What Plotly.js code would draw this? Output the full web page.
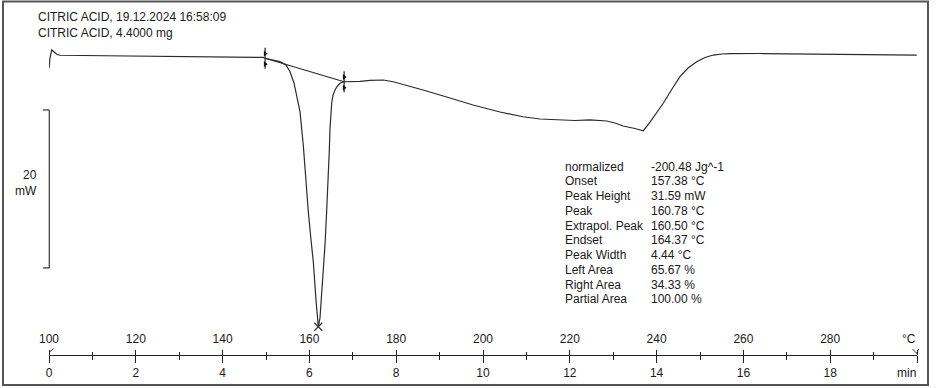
<!DOCTYPE html>
<html>
<head>
<meta charset="utf-8">
<script src="https://cdn.plot.ly/plotly-3.0.1.min.js"></script>
<style>
  html, body { margin: 0; padding: 0; background: #fff; }
  #chart { width: 937px; height: 388px; }
</style>
</head>
<body>
<div id="chart"></div>
<script>
// ---------- DATA ----------
const titleLines = ["CITRIC ACID, 19.12.2024 16:58:09", "CITRIC ACID, 4.4000 mg"];

// DSC curve: temperature (°C) and heat flow (mW, relative, endo down)
const tempC = [
  100.0, 100.23, 100.62, 101.15, 101.84, 102.53, 107.14, 116.36, 125.58, 134.79,
  144.01, 149.31, 149.77, 151.38, 153.23, 154.61, 155.53, 156.45, 157.07, 157.83,
  158.59, 159.17, 159.75, 160.37, 160.90, 161.52, 162.05, 162.44, 162.83, 163.25,
  163.59, 163.99, 164.36, 164.59, 164.75, 165.14, 165.44, 165.90, 166.47, 167.05,
  167.97, 169.35, 171.66, 173.96, 177.03, 179.33, 183.18, 186.18, 192.40, 197.70,
  203.92, 209.22, 213.13, 216.98, 221.20, 224.65, 228.50, 230.41, 232.26, 235.02,
  236.94, 238.48, 239.86, 241.54, 243.55, 245.39, 247.24, 249.24, 251.15, 253.07,
  255.07, 256.91, 263.82, 273.04, 284.56, 296.08, 299.93
];
const heatFlow = [
  -1.43, -0.13, 0.89, 0.63, 0.32, 0.22, 0.19, 0.15, 0.10, 0.06,
  0.00, -0.06, -0.16, -0.32, -0.59, -1.01, -1.86, -3.29, -4.81, -6.92,
  -11.14, -15.57, -19.58, -23.16, -25.91, -30.76, -34.14, -33.04, -30.13, -26.96,
  -23.80, -19.37, -15.32, -11.77, -8.99, -5.82, -4.81, -4.18, -3.67, -3.33,
  -3.13, -3.13, -3.08, -2.97, -2.91, -3.13, -3.67, -4.18, -5.19, -6.08,
  -6.96, -7.56, -7.85, -7.97, -8.04, -7.97, -8.10, -8.35, -8.73, -9.05,
  -9.33, -8.23, -7.22, -5.86, -4.05, -2.49, -1.39, -0.59, -0.06, 0.25,
  0.38, 0.42, 0.44, 0.38, 0.32, 0.25, 0.25
];

// Integration baseline (onset marker -> endset marker)
const baselineT = [149.8, 168.0];
const baselineV = [-0.16, -3.13];

// Axis ticks
const tempTicks = [100, 120, 140, 160, 180, 200, 220, 240, 260, 280, 300];
const tempTickText = ["100", "120", "140", "160", "180", "200", "220", "240", "260", "280", ""];
const tempUnit = "°C";
const tempMinor = [110, 130, 150, 170, 190, 210, 230, 250, 270, 290];
const timeTicks = [0, 2, 4, 6, 8, 10, 12, 14, 16, 18, 20];
const timeTickText = ["0", "2", "4", "6", "8", "10", "12", "14", "16", "18", ""];
const timeUnit = "min";
const timeMinor = [1, 3, 5, 7, 9, 11, 13, 15, 17, 19];

// Scale bar
const scaleBarMW = 20;
const scaleBarTop = -6.7;
const scaleLabel = ["20", "mW"];

// Evaluation results
const resultLabels = ["normalized", "Onset", "Peak Height", "Peak", "Extrapol. Peak",
  "Endset", "Peak Width", "Left Area", "Right Area", "Partial Area"];
const resultValues = ["-200.48 Jg^-1", "157.38 °C", "31.59 mW", "160.78 °C", "160.50 °C",
  "164.37 °C", "4.44 °C", "65.67 %", "34.33 %", "100.00 %"];

// ---------- LAYOUT HELPERS ----------
const W = 937, H = 388;
const M = { l: 49, r: 20, t: 20, b: 33 };
const PW = W - M.l - M.r, PH = H - M.t - M.b;
const px = x => (x - M.l) / PW;          // pixel -> paper x
const py = y => (H - M.b - y) / PH;       // pixel -> paper y
const INK = "#1a1a1a";
const FONT = "Liberation Sans, Arial, sans-serif";
const PX_PER_MW = 7.9, ZERO_PX = 57;

// peak (minimum) from data
let iMin = 0;
heatFlow.forEach((v, i) => { if (v < heatFlow[iMin]) iMin = i; });

const traces = [
  { x: tempC, y: heatFlow, type: "scatter", mode: "lines",
    line: { color: "#2b2b2b", width: 1.2 }, hoverinfo: "skip" },
  { x: baselineT, y: baselineV, type: "scatter", mode: "lines",
    line: { color: "#2b2b2b", width: 1.2 }, hoverinfo: "skip" },
  { x: baselineT, y: baselineV, type: "scatter", mode: "markers",
    marker: { symbol: "line-ns-open", size: 15, color: "#222", line: { color: "#222", width: 1.2 } }, hoverinfo: "skip" },
  { x: baselineT.concat(baselineT), y: baselineV.map(v => v + 0.6).concat(baselineV.map(v => v - 0.75)),
    type: "scatter", mode: "markers",
    marker: { symbol: "triangle-right", size: 5, color: "#111", line: { width: 0 } }, hoverinfo: "skip" },
  { x: [tempC[iMin]], y: [heatFlow[iMin]], type: "scatter", mode: "markers",
    marker: { symbol: "x-thin-open", size: 8, color: "#333", line: { color: "#333", width: 1.2 } }, hoverinfo: "skip" },
  { x: [timeTicks[0], timeTicks[timeTicks.length - 1]], y: [null, null], xaxis: "x2", yaxis: "y",
    type: "scatter", mode: "lines", hoverinfo: "skip", showlegend: false }
];

const txt = (text, x, y, xanchor, size) => ({
  text: text, xref: "paper", yref: "paper", x: x, y: y,
  xanchor: xanchor, yanchor: "middle", showarrow: false,
  font: { size: size || 12, color: INK, family: FONT }
});

const annotations = [];
titleLines.forEach((t, i) => annotations.push(txt(t, px(36), py(16.7 + i * 16.6), "left")));
scaleLabel.forEach((t, i) => annotations.push(txt(t, px(38.5), py(175 + i * 15.7), "right")));
resultLabels.forEach((t, i) => {
  const yy = py(166.7 + i * 14.73);
  annotations.push(txt(t, px(562.5), yy, "left"));
  annotations.push(txt(resultValues[i], px(649.3), yy, "left"));
});
// unit labels right-aligned at the axis end
annotations.push(txt(tempUnit, 1 + 0.6 / PW, py(339), "right", 12));
annotations.push(txt(timeUnit, 1 + 0.6 / PW, py(372.5), "right", 12));

const shapes = [
  // outer frame
  { type: "rect", xref: "paper", yref: "paper", x0: px(3), x1: px(928), y0: py(385), y1: py(1.5),
    line: { color: "#555", width: 2 } },
  // scale bar ]
  { type: "line", xref: "paper", yref: "y", x0: px(49.3), x1: px(49.3), y0: scaleBarTop, y1: scaleBarTop - scaleBarMW,
    line: { color: "#333", width: 1.2 } },
  { type: "line", xref: "paper", yref: "y", x0: px(43), x1: px(49.3), y0: scaleBarTop, y1: scaleBarTop,
    line: { color: "#333", width: 1.2 } },
  { type: "line", xref: "paper", yref: "y", x0: px(43), x1: px(49.3), y0: scaleBarTop - scaleBarMW, y1: scaleBarTop - scaleBarMW,
    line: { color: "#333", width: 1.2 } },
  // axis end arrows
  { type: "line", xref: "paper", yref: "paper", x0: px(49), x1: px(53.5), y0: py(352.5), y1: py(348.5),
    line: { color: "#222", width: 1 } },
  { type: "line", xref: "paper", yref: "paper", x0: px(912.5), x1: px(916.8), y0: py(349), y1: py(353.5),
    line: { color: "#222", width: 1 } },
  { type: "line", xref: "paper", yref: "paper", x0: px(918.5), x1: px(916.8), y0: py(349), y1: py(353.5),
    line: { color: "#222", width: 1 } }
];

const axisCommon = {
  showline: true, linecolor: "#222", linewidth: 1.3, showgrid: false, zeroline: false,
  tickcolor: "#222", tickwidth: 1, tickmode: "array",
  tickfont: { size: 12, color: INK, family: FONT }, fixedrange: true
};

const layout = {
  width: W, height: H, margin: M,
  paper_bgcolor: "#fff", plot_bgcolor: "#fff", showlegend: false,
  font: { family: FONT, size: 12, color: INK },
  xaxis: Object.assign({}, axisCommon, {
    range: [100, 300], anchor: "free", position: 0, side: "top",
    ticks: "outside", ticklen: 5, tickvals: tempTicks, ticktext: tempTickText, ticklabelstandoff: 2,
    minor: { tickmode: "array", tickvals: tempMinor, ticks: "outside", ticklen: 3.5, tickcolor: "#222", tickwidth: 1, showgrid: false }
  }),
  xaxis2: Object.assign({}, axisCommon, {
    range: [0, 20], overlaying: "x", anchor: "y", side: "bottom",
    ticks: "outside", ticklen: 6.5, tickvals: timeTicks, ticktext: timeTickText,
    minor: { tickmode: "array", tickvals: timeMinor, ticks: "outside", ticklen: 4, tickcolor: "#222", tickwidth: 1, showgrid: false }
  }),
  yaxis: { range: [(ZERO_PX - (H - M.b)) / PX_PER_MW, (ZERO_PX - M.t) / PX_PER_MW], visible: false, fixedrange: true },
  annotations: annotations,
  shapes: shapes
};

Plotly.newPlot("chart", traces, layout, { displayModeBar: false, staticPlot: true });
</script>
</body>
</html>
